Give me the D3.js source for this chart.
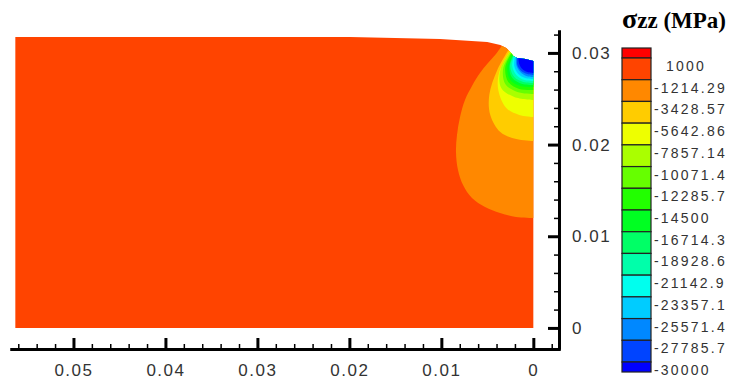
<!DOCTYPE html>
<html lang="en">
<head>
<meta charset="UTF-8">
<title>σzz contour</title>
<style>
  body { margin: 0; background: #fff; }
  svg { display: block; }
  .axis .tick text { font: 17px Arial, "Liberation Sans", sans-serif; fill: #333; letter-spacing: 1.5px; }
  .axis path.domain { stroke: #000; stroke-width: 3; }
  .axis .major line { stroke: #000; stroke-width: 3; }
  .axis .minor line { stroke: #000; stroke-width: 1.5; }
  .legend-label { font: 14px Arial, "Liberation Sans", sans-serif; fill: #333; letter-spacing: 2.2px; }
  .title { font-family: "Times New Roman", "Liberation Serif", serif; font-weight: bold; fill: #000; }
</style>
</head>
<body>
<svg id="chart" width="733" height="386"></svg>
<script src="https://d3js.org/d3.v7.min.js"></script>
<script>
// axis ticks (metres)
const xMajorTicks = [0.05, 0.04, 0.03, 0.02, 0.01, 0];
const yMajorTicks = [0, 0.01, 0.02, 0.03];

// legend levels (MPa)
const legendLevels = [1000, -1214.29, -3428.57, -5642.86, -7857.14, -10071.4, -12285.7,
  -14500, -16714.3, -18928.6, -21142.9, -23357.1, -25571.4, -27785.7, -30000];
const legendLabels = ["1000", "-1214.29", "-3428.57", "-5642.86", "-7857.14", "-10071.4", "-12285.7",
  "-14500", "-16714.3", "-18928.6", "-21142.9", "-23357.1", "-25571.4", "-27785.7", "-30000"];

// deformed body outline [x, y] in metres (x measured from the axis, to the left)
const bodyOutline = [
  [0, 0], [0, 0.02912], [0.00087, 0.02933], [0.00174, 0.02944], [0.00218, 0.02966],
  [0.00251, 0.03010], [0.00294, 0.03053], [0.00359, 0.03086], [0.00501, 0.03119],
  [0.01013, 0.03152], [0.01993, 0.03173], [0.05632, 0.03173], [0.05632, 0]
];

// contour band boundaries, from the surface round to the axis x = 0
const level2 = [[0.00329,0.03097],[0.00406,0.02988],[0.00493,0.02890],[0.00580,0.02781],[0.00667,0.02640],[0.00743,0.02487],[0.00797,0.02301],[0.00830,0.02105],[0.00841,0.01920],[0.00819,0.01723],[0.00764,0.01560],[0.00667,0.01418],[0.00525,0.01320],[0.00362,0.01254],[0.00188,0.01210],[0,0.01199]];
const level3 = [[0.00251,0.03064],[0.00392,0.02814],[0.00479,0.02541],[0.00468,0.02323],[0.00359,0.02137],[0.00185,0.02061],[0,0.02039]];
const level4 = [[0.00240,0.03043],[0.00370,0.02792],[0.00381,0.02595],[0.00294,0.02399],[0.00153,0.02323],[0,0.02301]];
const level5 = [[0.00240,0.03032],[0.00359,0.02814],[0.00349,0.02617],[0.00207,0.02519],[0,0.02486]];
const level6 = [[0.00229,0.03021],[0.00327,0.02835],[0.00305,0.02661],[0.00174,0.02574],[0,0.02552]];
const level7 = [[0.00229,0.03010],[0.00305,0.02846],[0.00272,0.02683],[0.00153,0.02606],[0,0.02595]];
const level8 = [[0.00218,0.02999],[0.00283,0.02846],[0.00251,0.02704],[0.00142,0.02639],[0,0.02628]];
const level9 = [[0.00218,0.02988],[0.00261,0.02846],[0.00229,0.02726],[0.00120,0.02661],[0,0.02650]];
const level10 = [[0.00207,0.02988],[0.00251,0.02857],[0.00207,0.02737],[0.00109,0.02683],[0,0.02672]];
const level11 = [[0.00207,0.02977],[0.00229,0.02857],[0.00185,0.02759],[0.00098,0.02704],[0,0.02694]];
const level12 = [[0.00196,0.02977],[0.00207,0.02857],[0.00163,0.02770],[0.00087,0.02726],[0,0.02715]];
const level13 = [[0.00185,0.02966],[0.00185,0.02868],[0.00142,0.02792],[0.00076,0.02748],[0,0.02737]];
const level14 = [[0.00174,0.02966],[0.00174,0.02868],[0.00131,0.02803],[0.00065,0.02770],[0,0.02759]];
const level15 = [[0.00163,0.02966],[0.00153,0.02879],[0.00120,0.02824],[0.00065,0.02792],[0,0.02781]];
const contourLevels = [level2, level3, level4, level5, level6, level7, level8,
  level9, level10, level11, level12, level13, level14, level15];

// 16 rainbow bands, red (top) to blue (bottom)
const bandColor = i => d3.hsl(i * 16, 1, 0.5).formatHex();

const svg = d3.select("#chart");

const x = d3.scaleLinear().domain([0.0569, -0.0029]).range([10, 560]);
const y = d3.scaleLinear().domain([-0.0023, 0.0325]).range([349, 30]);

const line = d3.line()
  .x(d => x(d[0]))
  .y(d => y(d[1]));

// body
svg.append("clipPath").attr("id", "bodyClip")
  .append("path").attr("d", line(bodyOutline) + "Z");

svg.append("path")
  .attr("d", line(bodyOutline) + "Z")
  .attr("fill", bandColor(1));

const curve = d3.line()
  .x(d => x(d[0]))
  .y(d => y(d[1]))
  .curve(d3.curveCatmullRom.alpha(0.5));

const xOut = -0.002, yOut = 0.034;
function regionPath(pts) {
  const first = pts[0], last = pts[pts.length - 1];
  return curve(pts) +
    `L${x(xOut)},${y(last[1])}L${x(xOut)},${y(yOut)}L${x(first[0])},${y(yOut)}Z`;
}

svg.append("g").attr("clip-path", "url(#bodyClip)")
  .selectAll("path")
  .data(contourLevels)
  .join("path")
  .attr("d", regionPath)
  .attr("fill", (d, i) => bandColor(i + 2));

// axes
const xMinor = d3.range(-1, 29).filter(i => i % 5 !== 0).map(i => i * 0.002);
const yMinor = d3.range(1, 17).filter(i => i % 5 !== 0).map(i => i * 0.002);
const fmt = d => d === 0 ? "0" : d3.format(".2f")(d);

const xAxis = svg.append("g").attr("class", "axis").attr("transform", "translate(0,349)");
xAxis.append("g").attr("class", "minor")
  .call(d3.axisBottom(x).tickValues(xMinor).tickSize(-5).tickSizeOuter(0).tickFormat(""));
xAxis.append("g").attr("class", "major")
  .call(d3.axisBottom(x).tickValues(xMajorTicks).tickSize(-11).tickSizeOuter(0).tickPadding(15).tickFormat(fmt));

const yAxis = svg.append("g").attr("class", "axis").attr("transform", "translate(559,0)");
yAxis.append("g").attr("class", "minor")
  .call(d3.axisRight(y).tickValues(yMinor).tickSize(-5).tickSizeOuter(0).tickFormat(""));
yAxis.append("g").attr("class", "major")
  .call(d3.axisRight(y).tickValues(yMajorTicks).tickSize(-11).tickSizeOuter(0).tickPadding(13).tickFormat(fmt));

// legend
const ly = d3.scaleLinear().domain([1000, -30000]).range([58, 362]);
const bands = d3.range(16).map(i => {
  const top = i === 0 ? ly(legendLevels[0]) - 10 : ly(legendLevels[i - 1]);
  const bottom = i === 15 ? ly(legendLevels[14]) + 10 : ly(legendLevels[i]);
  return { i, top, bottom };
});

svg.append("g")
  .selectAll("rect")
  .data(bands)
  .join("rect")
  .attr("x", 622)
  .attr("y", d => d.top)
  .attr("width", 29)
  .attr("height", d => d.bottom - d.top)
  .attr("fill", d => bandColor(d.i))
  .attr("stroke", "#222")
  .attr("stroke-width", 1.2);

svg.append("g")
  .selectAll("text")
  .data(legendLevels)
  .join("text")
  .attr("class", "legend-label")
  .attr("x", (d, i) => legendLabels[i].startsWith("-") ? 654 : 666)
  .attr("y", d => ly(d) + 13)
  .text((d, i) => legendLabels[i]);

const title = svg.append("text").attr("class", "title").attr("x", 622).attr("y", 28);
title.append("tspan").attr("font-size", 28).text("σ");
title.append("tspan").attr("font-size", 23).text("zz (MPa)");
</script>
</body>
</html>
